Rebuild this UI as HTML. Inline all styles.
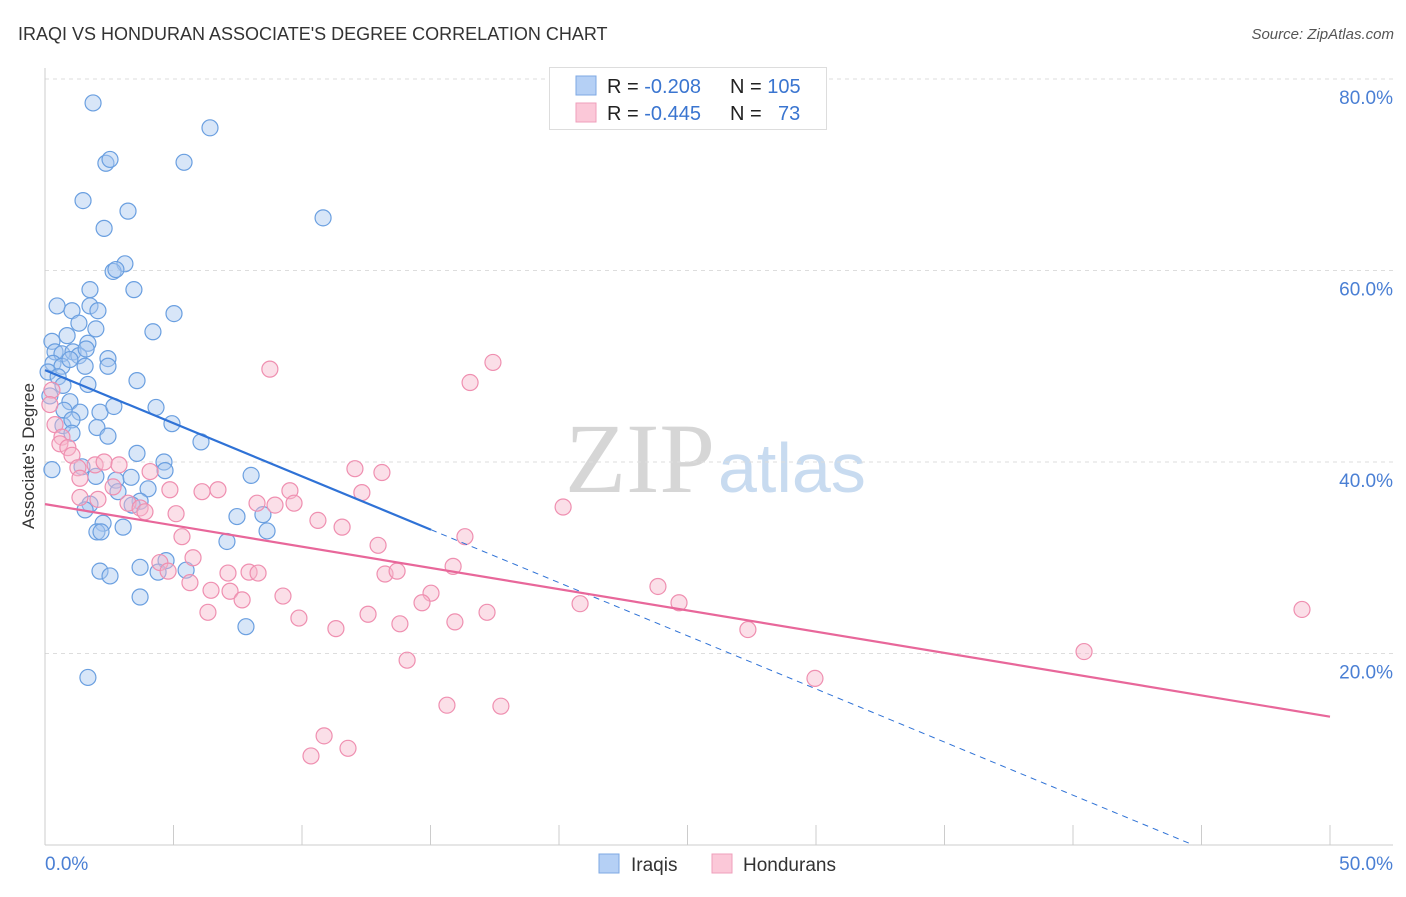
<!DOCTYPE html>
<html><head><meta charset="utf-8"><style>
body{margin:0;background:#fff;font-family:"Liberation Sans",sans-serif;}
svg text{font-family:"Liberation Sans",sans-serif;}
svg text.serif{font-family:"Liberation Serif",serif;}
</style></head><body>
<svg id="chart" width="1406" height="892" xmlns="http://www.w3.org/2000/svg">
<text x="18" y="40" font-size="18" fill="#333">IRAQI VS HONDURAN ASSOCIATE'S DEGREE CORRELATION CHART</text>
<text x="1394" y="39" font-size="15" fill="#555" font-style="italic" text-anchor="end">Source: ZipAtlas.com</text>
<text class="serif" x="715" y="492" font-size="100" fill="#d6d6d6" text-anchor="end">ZIP</text>
<text x="718" y="492" font-size="70" fill="#c8dbf0">atlas</text>
<g id="grid"></g>
<g id="axes"></g>
<g id="marks"></g>
<text x="34" y="456" font-size="17" fill="#333" text-anchor="middle" transform="rotate(-90 34 456)">Associate's Degree</text>
<g>
<rect x="549.5" y="67.5" width="277" height="62" fill="#fff" stroke="#ddd"/>
<rect x="576" y="76" width="20" height="19" fill="#b5d0f5" stroke="#7ea8e3"/>
<rect x="576" y="103" width="20" height="19" fill="#fbc8d8" stroke="#ef9fbb"/>
<text x="607" y="93" font-size="20" fill="#222">R = <tspan fill="#3a75d0">-0.208</tspan></text>
<text x="730" y="93" font-size="20" fill="#222">N = <tspan fill="#3a75d0">105</tspan></text>
<text x="607" y="120" font-size="20" fill="#222">R = <tspan fill="#3a75d0">-0.445</tspan></text>
<text x="730" y="120" font-size="20" fill="#222">N = <tspan fill="#3a75d0" x="778">73</tspan></text>
</g>
<g>
<rect x="599" y="854" width="20" height="19" fill="#b5d0f5" stroke="#7ea8e3"/>
<text x="631" y="871" font-size="19" fill="#333">Iraqis</text>
<rect x="712" y="854" width="20" height="19" fill="#fbc8d8" stroke="#ef9fbb"/>
<text x="743" y="871" font-size="19" fill="#333">Hondurans</text>
</g>
</svg>
<script>
const yTicks=[20,40,60,80];
const yTickLabels=["20.0%","40.0%","60.0%","80.0%"];
const xTicks=[0,5,10,15,20,25,30,35,40,45,50];
const iraqiX=[1.87,6.42,2.37,2.53,5.41,1.48,3.23,10.82,2.30,3.11,2.65,2.76,3.46,1.75,0.47,1.05,1.75,2.06,5.02,1.32,1.98,4.20,0.27,0.86,1.67,0.39,0.66,1.09,1.32,1.60,2.45,0.31,0.66,0.97,2.45,1.56,0.12,0.51,0.70,1.67,3.58,0.19,0.97,0.74,1.36,2.14,2.68,4.32,0.70,1.05,2.02,2.45,4.94,6.07,1.05,3.58,1.44,1.98,4.63,4.67,8.02,2.76,4.01,2.84,3.35,3.70,1.75,1.56,3.39,7.47,8.48,2.26,3.04,2.02,2.18,8.64,7.08,4.71,3.70,2.14,2.53,4.40,5.49,3.70,7.82,1.67,0.27];
const iraqiY=[77.5,74.9,71.2,71.6,71.3,67.3,66.2,65.5,64.4,60.7,59.9,60.1,58.0,58.0,56.3,55.8,56.3,55.8,55.5,54.5,53.9,53.6,52.6,53.2,52.4,51.5,51.3,51.5,51.1,51.8,50.8,50.3,50.0,50.7,50.0,50.0,49.4,48.9,48.0,48.1,48.5,46.9,46.3,45.4,45.2,45.2,45.8,45.7,43.8,44.4,43.6,42.7,44.0,42.1,43.0,40.9,39.5,38.5,40.0,39.1,38.6,38.1,37.2,36.9,38.4,35.9,35.6,35.0,35.5,34.3,34.5,33.6,33.2,32.7,32.7,32.8,31.7,29.7,29.0,28.6,28.1,28.5,28.7,25.9,22.8,17.5,39.2];
const hondX=[8.75,17.43,16.54,0.27,0.19,0.39,0.66,0.58,0.89,1.05,1.28,1.95,2.30,2.88,12.06,13.11,1.36,2.65,4.09,4.86,6.11,6.73,9.53,1.36,2.06,3.23,3.70,3.89,5.10,8.25,8.95,9.69,12.33,20.16,10.62,11.56,16.34,5.33,12.96,4.47,5.76,4.79,7.12,7.94,8.29,13.23,13.70,15.88,5.64,6.46,7.20,9.26,7.67,15.02,14.67,20.82,23.85,24.67,6.34,9.88,12.57,17.20,13.81,15.95,11.32,27.35,48.91,40.43,29.96,14.09,15.64,17.74,10.86,11.79,10.35];
const hondY=[49.7,50.4,48.3,47.5,46.0,43.9,42.6,41.9,41.5,40.7,39.4,39.7,40.0,39.7,39.3,38.9,38.3,37.4,39.0,37.1,36.9,37.1,37.0,36.3,36.1,35.7,35.2,34.8,34.6,35.7,35.5,35.7,36.8,35.3,33.9,33.2,32.2,32.2,31.3,29.5,30.0,28.6,28.4,28.5,28.4,28.3,28.6,29.1,27.4,26.6,26.5,26.0,25.6,26.3,25.3,25.2,27.0,25.3,24.3,23.7,24.1,24.3,23.1,23.3,22.6,22.5,24.6,20.2,17.4,19.3,14.6,14.5,11.4,10.1,9.3];
const iraqiTrend=[49.6,-1.11];
const hondTrend=[35.6,-0.444];

const NS="http://www.w3.org/2000/svg";
const X0=45,X1=1330,Y0=845,PX=(X1-X0)/50,PY=191.5/20;
const sx=v=>X0+v*PX, sy=v=>Y0-v*PY;
function mk(tag,attrs,parent){const e=document.createElementNS(NS,tag);for(const k in attrs)e.setAttribute(k,attrs[k]);document.getElementById(parent).appendChild(e);return e;}
yTicks.forEach((t,i)=>{
  const l=mk('line',{x1:X0,x2:1393,y1:sy(t),y2:sy(t),stroke:'#ddd','stroke-dasharray':'4,4'},'grid');
  
  
  const tx=mk('text',{x:1393,y:sy(t)+25,'font-size':19,fill:'#4a7fd4','text-anchor':'end'},'axes');
  tx.textContent=yTickLabels[i];
  
  
});
const ya=mk('line',{x1:X0,x2:X0,y1:68,y2:Y0,stroke:'#ccc'},'axes');


const xa=mk('line',{x1:X0,x2:1393,y1:Y0,y2:Y0,stroke:'#ccc'},'axes');


xTicks.forEach(t=>{
  const l=mk('line',{x1:sx(t),x2:sx(t),y1:Y0-20,y2:Y0,stroke:'#ccc'},'axes');
  
  
});
const xl0=mk('text',{x:45,y:870,'font-size':19,fill:'#4a7fd4'},'axes');xl0.textContent='0.0%';


const xl1=mk('text',{x:1393,y:870,'font-size':19,fill:'#4a7fd4','text-anchor':'end'},'axes');xl1.textContent='50.0%';


function dots(xs,ys,fill,stroke,name){
  xs.forEach((x,i)=>{
    const c=mk('circle',{cx:sx(x),cy:sy(ys[i]),r:8,fill:fill,'fill-opacity':0.45,stroke:stroke,'stroke-width':1.2},'marks');
    
    
  });
}
dots(iraqiX,iraqiY,'#a8c8f0','#6a9fe0','iraqi-point');
dots(hondX,hondY,'#f7b8cc','#ef8fb0','honduran-point');
const ie=15.02,iz=-iraqiTrend[0]/iraqiTrend[1];
const l1=mk('line',{x1:sx(0),y1:sy(iraqiTrend[0]),x2:sx(ie),y2:sy(iraqiTrend[0]+iraqiTrend[1]*ie),stroke:'#2f72d6','stroke-width':2.2},'marks');


const l2=mk('line',{x1:sx(ie),y1:sy(iraqiTrend[0]+iraqiTrend[1]*ie),x2:sx(iz),y2:sy(0),stroke:'#2f72d6','stroke-width':1,'stroke-dasharray':'6,5'},'marks');


const l3=mk('line',{x1:sx(0),y1:sy(hondTrend[0]),x2:sx(50),y2:sy(hondTrend[0]+hondTrend[1]*50),stroke:'#e8679a','stroke-width':2.2},'marks');


</script>
</body></html>
